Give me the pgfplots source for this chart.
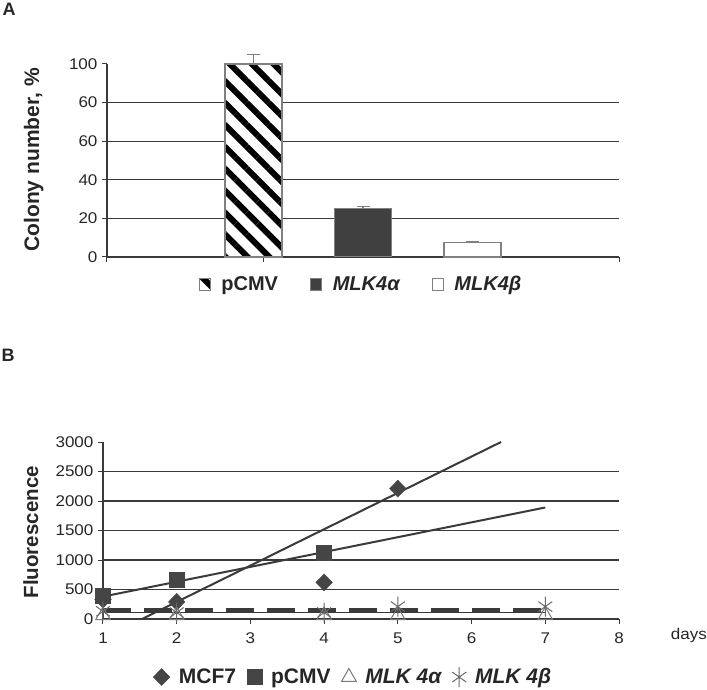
\documentclass[border=0pt]{standalone}
\usepackage{fontspec}
\setmainfont{Liberation Sans}
\newfontfamily\wide[FakeStretch=1.1]{Liberation Sans}
\usepackage{pgfplots}
\pgfplotsset{compat=1.18}
\usetikzlibrary{patterns.meta}
\definecolor{lineC}{HTML}{3A3A3A}
\definecolor{txtC}{HTML}{262626}
\definecolor{barD}{HTML}{404040}
\definecolor{edgeC}{HTML}{808080}
\definecolor{markC}{HTML}{454545}
\definecolor{triC}{HTML}{7A7A7A}
\definecolor{astC}{HTML}{6A6A6A}
\begin{document}
\begin{tikzpicture}[x=1pt,y=1pt]
\useasboundingbox (0,0) rectangle (707,689);
\node[font=\bfseries\fontsize{18}{18}\selectfont, text=txtC] at (9,680) {A};
\node[font=\bfseries\fontsize{18}{18}\selectfont, text=txtC] at (8,334) {B};

% ---------------- Panel A ----------------
\begin{axis}[
  at={(107pt,432pt)}, anchor=south west,
  scale only axis, width=512pt, height=193pt,
  xmin=-2.336, xmax=2.336, ymin=0, ymax=100,
  clip=false,
  axis x line*=bottom, axis y line*=left,
  axis line style={draw=lineC, line width=1.2pt, -},
  ytick={0,20,40,60,80}, yticklabels={0,20,40,60,60},
  extra y ticks={100}, extra y tick labels={100},
  extra y tick style={ymajorgrids=false},
  ymajorgrids, grid style={draw=lineC, line width=1.2pt},
  xtick={-2.336,-0.91,2.336}, xticklabels={},
  tick align=outside, major tick length=5pt,
  tick style={draw=lineC, line width=1pt},
  yticklabel style={font=\wide\fontsize{15.5}{15.5}\selectfont, text=txtC, xshift=-1pt},
  /pgf/number format/assume math mode=true,
  every axis y label/.style={at={(axis description cs:-0.143,0.503)}, rotate=90, anchor=center},
  ylabel={Colony number, \%},
  ylabel style={font=\bfseries\fontsize{21}{21}\selectfont, text=txtC},
  ybar, bar width=57pt,
  legend style={at={(axis description cs:0.496,-0.14)}, anchor=center, draw=none,
    legend columns=3, font=\bfseries\fontsize{20}{20}\selectfont, text=txtC,
    /tikz/every odd column/.append style={column sep=9pt},
    /tikz/every even column/.append style={column sep=30pt}},
  legend image code/.code={\draw[#1, line width=0.8pt] (0pt,-6pt) rectangle (11pt,6pt);},
]
\addplot+[bar shift=0pt, fill=white, draw=edgeC, line width=1.2pt,
  postaction={pattern={Lines[angle=-45,distance=15.5pt,line width=6pt]}, pattern color=black},
  error bars/.cd, y dir=plus, y explicit,
  error bar style={draw=edgeC, line width=1.2pt},
  error mark options={rotate=90, mark size=6.5pt, draw=edgeC, line width=1.2pt}]
  coordinates {(-1,100) +- (0,5)};
\addlegendentry{pCMV}
\addplot+[bar shift=0pt, fill=barD, draw=edgeC, line width=1.0pt,
  error bars/.cd, y dir=plus, y explicit,
  error bar style={draw=edgeC, line width=1.2pt},
  error mark options={rotate=90, mark size=6.5pt, draw=edgeC, line width=1.2pt}]
  coordinates {(0,25) +- (0,1)};
\addlegendentry{\itshape MLK4α}
\addplot+[bar shift=0pt, fill=white, draw=edgeC, line width=1.2pt,
  error bars/.cd, y dir=plus, y explicit,
  error bar style={draw=edgeC, line width=1.2pt},
  error mark options={rotate=90, mark size=6.5pt, draw=edgeC, line width=1.2pt}]
  coordinates {(1,7.5) +- (0,0.6)};
\addlegendentry{\itshape MLK4β}
\end{axis}

% ---------------- Panel B ----------------
\begin{axis}[
  at={(103pt,70pt)}, anchor=south west,
  scale only axis, width=516pt, height=177pt,
  xmin=1, xmax=8, ymin=0, ymax=3000,
  clip=false,
  axis x line*=bottom, axis y line*=left,
  axis line style={draw=lineC, line width=1.2pt, -},
  xtick={1,2,3,4,5,6,7,8},
  ytick={0,500,1000,1500,2000,2500},
  extra y ticks={3000}, extra y tick style={ymajorgrids=false},
  ymajorgrids, grid style={draw=lineC, line width=1.2pt},
  tick align=outside, major tick length=5pt,
  tick style={draw=lineC, line width=1pt},
  scaled y ticks=false,
  /pgf/number format/1000 sep={},
  /pgf/number format/assume math mode=true,
  ticklabel style={font=\wide\fontsize{15.5}{15.5}\selectfont, text=txtC},
  yticklabel style={xshift=-1pt},
  xticklabel style={yshift=-5pt},
  every axis y label/.style={at={(axis description cs:-0.14,0.49)}, rotate=90, anchor=center},
  ylabel={Fluorescence},
  ylabel style={font=\bfseries\fontsize{20.5}{20.5}\selectfont, text=txtC},
  legend style={at={(axis description cs:0.485,-0.328)}, anchor=center, draw=none,
    legend columns=4, font=\bfseries\fontsize{21}{21}\selectfont, text=txtC,
    /tikz/every odd column/.append style={column sep=7pt},
    /tikz/every even column/.append style={column sep=9pt}},
]
% trend lines
\addplot[forget plot, draw=lineC, line width=2pt] coordinates {(1.53,0) (6.40,3000)};
\addplot[forget plot, draw=lineC, line width=2pt] coordinates {(1,380) (7,1890)};
\addplot[forget plot, draw=lineC, line width=1.3pt] coordinates {(1,115) (7,115)};
\addplot[forget plot, draw=lineC, line width=4.5pt, dash pattern=on 28pt off 13pt] coordinates {(1,150) (7,150)};
% data
\addplot[only marks, mark=diamond*, mark size=8.5pt, mark options={fill=markC, draw=markC, xscale=1.3}]
  coordinates {(1,330) (2,290) (4,620) (5,2210)};
\addlegendentry{MCF7}
\addplot[only marks, mark=square*, mark size=7.5pt, mark options={fill=markC, draw=markC}]
  coordinates {(1,400) (2,670) (4,1120)};
\addlegendentry{pCMV}
\addplot[only marks, mark=triangle, mark size=8.5pt, mark options={draw=triC, line width=1pt}]
  coordinates {(1,60) (2,60) (4,60) (5,60) (7,60)};
\addlegendentry{\itshape MLK 4α}
\addplot[only marks, mark=asterisk, mark size=10pt, mark options={draw=astC, line width=1pt, xscale=0.8}]
  coordinates {(1,130) (2,110) (4,110) (5,210) (7,210)};
\addlegendentry{\itshape MLK 4β}
\end{axis}
\node[font=\wide\fontsize{15.5}{15.5}\selectfont, text=txtC] at (689,54) {days};
\end{tikzpicture}
\end{document}
